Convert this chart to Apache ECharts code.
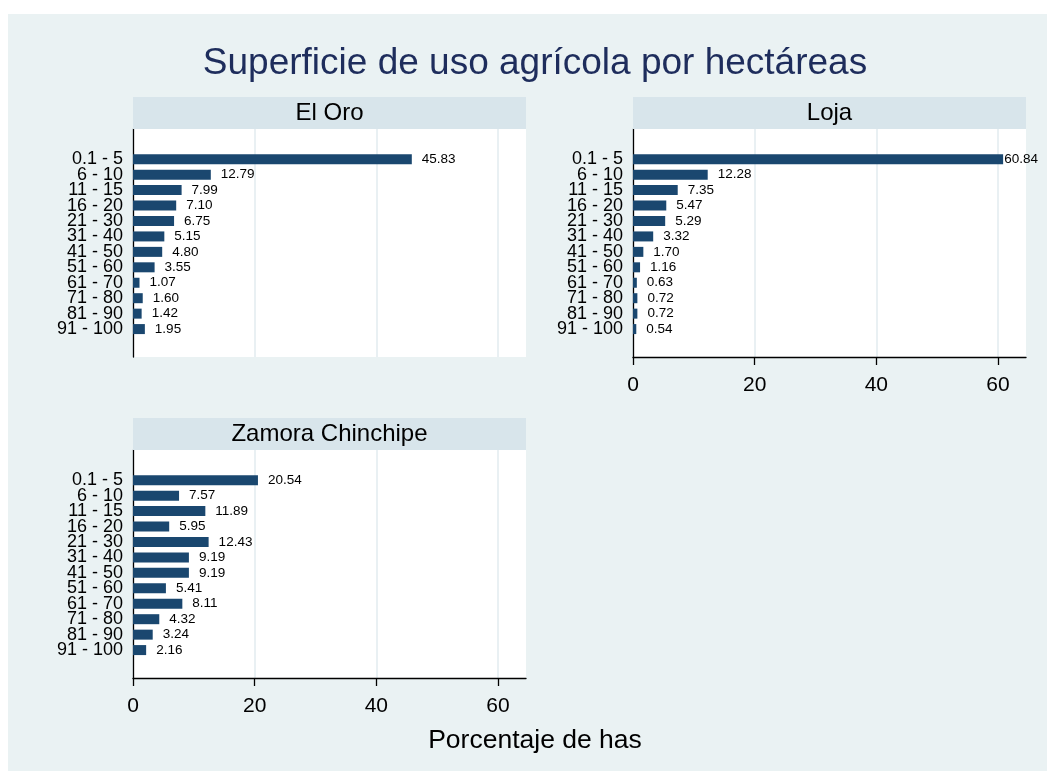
<!DOCTYPE html>
<html>
<head>
<meta charset="utf-8">
<script src="https://cdn.jsdelivr.net/npm/echarts@6/dist/echarts.min.js"></script>
<style>
html,body{margin:0;padding:0;background:#ffffff;}
#chart{width:1047px;height:771px;}
</style>
</head>
<body>
<div id="chart"></div>
<script>
// ---- data ----
const categories = ['0.1 - 5','6 - 10','11 - 15','16 - 20','21 - 30','31 - 40','41 - 50','51 - 60','61 - 70','71 - 80','81 - 90','91 - 100'];
const panelNames = ['El Oro', 'Loja', 'Zamora Chinchipe'];
const elOro  = [45.83, 12.79, 7.99, 7.10, 6.75, 5.15, 4.80, 3.55, 1.07, 1.60, 1.42, 1.95];
const loja   = [60.84, 12.28, 7.35, 5.47, 5.29, 3.32, 1.70, 1.16, 0.63, 0.72, 0.72, 0.54];
const zamora = [20.54, 7.57, 11.89, 5.95, 12.43, 9.19, 9.19, 5.41, 8.11, 4.32, 3.24, 2.16];
const xTicks = [0, 20, 40, 60];
const titleText = 'Superficie de uso agrícola por hectáreas';
const xTitle = 'Porcentaje de has';

// ---- layout ----
const FONT = '"Liberation Sans", Arial, sans-serif';
const BG = '#eaf2f3';
const STRIP = '#d8e5eb';
const BAR = '#1a476f';
const GRIDLINE = '#e4edf0';
const X_MIN = 0, X_MAX = 64.6, X_INT = 20;
const PW = 393, PH = 228;
const panels = [
  {name: panelNames[0], values: elOro,  left: 133, top: 129, showX: false},
  {name: panelNames[1], values: loja,   left: 633, top: 129, showX: true},
  {name: panelNames[2], values: zamora, left: 133, top: 450, showX: true}
];

const grid = [], xAxis = [], yAxis = [], series = [], graphic = [];

graphic.push({type:'rect', shape:{x:8, y:14, width:1039, height:757}, style:{fill:BG}, z:-10, silent:true});

panels.forEach((p, i) => {
  const bgIdx = grid.length;
  // background / frame grid
  grid.push({left:p.left, top:p.top, width:PW, height:PH, show:true, backgroundColor:'#ffffff', borderWidth:0, containLabel:false, z:0});
  xAxis.push({
    type:'value', gridIndex:bgIdx, min:X_MIN, max:X_MAX, interval:X_INT,
    axisLine:{show:p.showX, onZero:false, lineStyle:{color:'#000', width:1.3}},
    axisTick:{show:p.showX, length:8, customValues:xTicks, lineStyle:{color:'#000', width:1.3}},
    axisLabel:{show:p.showX, margin:18, fontSize:21, color:'#000', fontFamily:FONT, customValues:xTicks,
      formatter: v => (xTicks.indexOf(v) >= 0 ? String(v) : '')},
    splitLine:{show:true, lineStyle:{color:GRIDLINE, width:1.6}},
    z:0
  });
  yAxis.push({
    type:'value', gridIndex:bgIdx, min:0, max:1,
    axisLine:{show:true, onZero:false, lineStyle:{color:'#000', width:1.3}},
    axisTick:{show:false}, axisLabel:{show:false}, splitLine:{show:false}
  });
  // data grid
  const dIdx = grid.length;
  grid.push({left:p.left, top:p.top + 22.5, width:PW, height:185.3, show:false, containLabel:false});
  xAxis.push({type:'value', gridIndex:dIdx, min:X_MIN, max:X_MAX, interval:X_INT, show:false});
  yAxis.push({
    type:'category', gridIndex:dIdx, data:categories, inverse:true,
    axisLine:{show:false}, axisTick:{show:false}, splitLine:{show:false},
    axisLabel:{interval:0, margin:10, fontSize:18, color:'#000', fontFamily:FONT}
  });
  series.push({
    type:'bar', xAxisIndex:dIdx, yAxisIndex:dIdx, barWidth:10, z:5,
    itemStyle:{color:BAR},
    data: p.values.map((v, k) => {
      const item = {value: v};
      if (v / X_MAX > 0.92) item.label = {distance: 1};
      return item;
    }),
    label:{show:true, position:'right', distance:10, fontSize:13.5, color:'#000', fontFamily:FONT,
      formatter: d => Number(d.value).toFixed(2)}
  });
  // strip header
  graphic.push({type:'rect', shape:{x:p.left, y:p.top - 32, width:PW, height:32}, style:{fill:STRIP}, z:1, silent:true});
  graphic.push({type:'text', x:p.left + PW/2, y:p.top - 16, style:{text:p.name, font:'24px ' + FONT, fill:'#000', textAlign:'center', textVerticalAlign:'middle'}, z:2, silent:true});
});

graphic.push({type:'text', x:535, y:64, style:{text:titleText, font:'37px ' + FONT, fill:'#1e2d5c', textAlign:'center', textVerticalAlign:'middle'}, z:2, silent:true});
graphic.push({type:'text', x:535, y:741, style:{text:xTitle, font:'26.5px ' + FONT, fill:'#000', textAlign:'center', textVerticalAlign:'middle'}, z:2, silent:true});

const chart = echarts.init(document.getElementById('chart'), null, {renderer:'canvas'});
chart.setOption({
  backgroundColor:'#ffffff',
  animation:false,
  grid, xAxis, yAxis, series, graphic
});
</script>
</body>
</html>
